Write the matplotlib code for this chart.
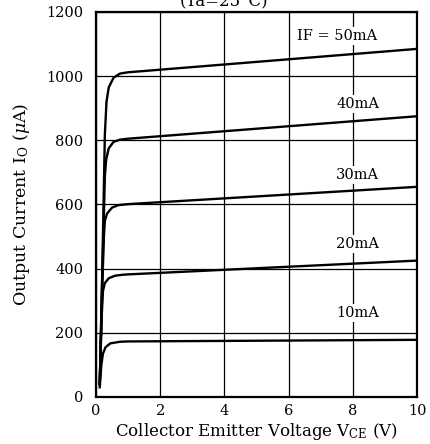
import matplotlib.pyplot as plt

plt.rcParams['font.family'] = ['DejaVu Serif']
plt.rcParams['mathtext.fontset'] = 'dejavuserif'

# output characteristics, one list pair per forward current
vce_10 = [0.12, 0.17, 0.22, 0.3, 0.45, 0.75, 1.0, 10]
io_10 = [30, 100, 135, 155, 167, 172, 173, 178]
vce_20 = [0.12, 0.18, 0.22, 0.28, 0.4, 0.6, 0.85, 1.0, 10]
io_20 = [40, 250, 330, 355, 370, 378, 381, 382, 425]
vce_30 = [0.12, 0.2, 0.25, 0.28, 0.35, 0.5, 0.7, 0.9, 1.0, 10]
io_30 = [40, 350, 500, 550, 572, 590, 598, 600, 601, 655]
vce_40 = [0.12, 0.2, 0.28, 0.32, 0.4, 0.55, 0.75, 1.0, 10]
io_40 = [40, 380, 690, 740, 775, 795, 802, 805, 875]
vce_50 = [0.12, 0.2, 0.28, 0.33, 0.4, 0.55, 0.75, 1.0, 10]
io_50 = [40, 400, 820, 920, 965, 995, 1008, 1012, 1085]

labels = ["10mA", "20mA", "30mA", "40mA", "IF = 50mA"]
label_x = [8.15, 8.15, 8.15, 8.15, 7.5]
label_y = [262, 478, 693, 913, 1125]

xticks = [0, 2, 4, 6, 8, 10]
yticks = [0, 200, 400, 600, 800, 1000, 1200]

fig = plt.figure(figsize=(4.3, 4.44), dpi=100)
ax = fig.add_axes([0.223, 0.106, 0.747, 0.867])

ax.set_xlim(0, 10)
ax.set_ylim(0, 1200)
ax.set_xticks(xticks)
ax.set_yticks(yticks)
ax.tick_params(length=0, labelsize=10.5)
ax.tick_params(axis='y', pad=9)
ax.tick_params(axis='x', pad=5)
ax.grid(True, color='black', linewidth=0.9)
ax.set_axisbelow(True)
for s in ax.spines.values():
    s.set_linewidth(1.6)

for xs, ys in [(vce_10, io_10), (vce_20, io_20), (vce_30, io_30),
               (vce_40, io_40), (vce_50, io_50)]:
    ax.plot(xs, ys, color='black', linewidth=1.7, zorder=3)

for t, x, y in zip(labels, label_x, label_y):
    ax.text(x, y, t, ha='center', va='center', fontsize=10.5, zorder=4,
            bbox=dict(facecolor='white', edgecolor='none', pad=1.5))

ax.set_xlabel("Collector Emitter Voltage V$_{\\rm CE}$ (V)", fontsize=12, labelpad=2)
fig.text(0.051, 0.54, "Output Current I$_{\\rm O}$ ($\\mu$A)", rotation=90,
         ha='center', va='center', fontsize=12.5)
fig.text(0.52, 0.996, "(Ta=25°C)", ha='center', va='center', fontsize=12)

fig.savefig("out.png", dpi=100)
